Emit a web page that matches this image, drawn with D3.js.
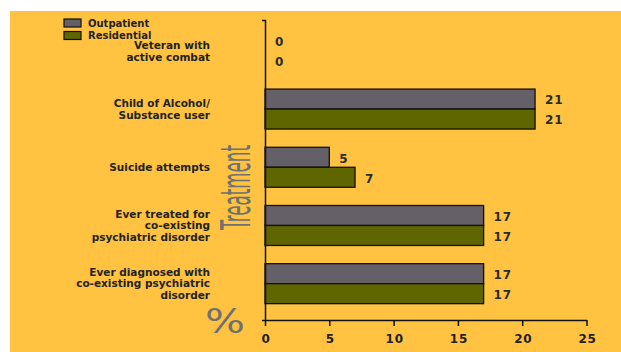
<!DOCTYPE html>
<html>
<head>
<meta charset="utf-8">
<script src="https://cdn.jsdelivr.net/npm/d3@7"></script>
<style>
  body { margin: 0; background: #fff; }
  text { font-family: "DejaVu Sans", Verdana, sans-serif; fill: #222; }
</style>
</head>
<body>
<div id="ChartContainer"></div>
<script>
// data
var categories = [
  ["Veteran with", "active combat"],
  ["Child of Alcohol/", "Substance user"],
  ["Suicide attempts"],
  ["Ever treated for", "co-existing", "psychiatric disorder"],
  ["Ever diagnosed with", "co-existing psychiatric", "disorder"]
]
var seriesNames = ["Outpatient", "Residential"]
var outpatient = [0, 21, 5, 17, 17]
var residential = [0, 21, 7, 17, 17]
var xTicks = [0, 5, 10, 15, 20, 25]
var colors = ["#655f67", "#5f6600"]

var fullWidth = 621
var fullHeight = 352

var svg = d3.select("#ChartContainer").append("svg")
  .attr("width", fullWidth)
  .attr("height", fullHeight)

svg.append("rect")
  .attr("x", 10)
  .attr("y", 11)
  .attr("width", fullWidth - 10)
  .attr("height", fullHeight - 11)
  .attr("fill", "#ffc341")

var x = d3.scaleLinear()
  .domain([0, 25])
  .range([265, 586.5])

var idx = categories.map((d, i) => i)
var y = d3.scaleBand()
  .domain(idx)
  .range([20, 320])
  .paddingInner(0.313)
  .paddingOuter(0.234)
  .align(0.4)

var sub = d3.scaleBand()
  .domain([0, 1])
  .range([0, y.bandwidth()])

var series = [outpatient, residential]

// bars + value labels
series.forEach((vals, s) => {
  svg.append("g").selectAll("rect")
    .data(vals)
    .enter().append("rect")
    .attr("x", x(0))
    .attr("y", (d, i) => y(i) + sub(s))
    .attr("width", d => x(d) - x(0))
    .attr("height", sub.bandwidth())
    .attr("fill", colors[s])
    .attr("stroke", "#111")
    .attr("stroke-width", 1.3)
    .style("display", d => d === 0 ? "none" : null)

  svg.append("g").selectAll("text")
    .data(vals)
    .enter().append("text")
    .attr("x", d => x(d) + 10)
    .attr("y", (d, i) => y(i) + sub(s) + sub.bandwidth() / 2 + 1)
    .attr("dy", "0.36em")
    .attr("font-size", "12px")
    .attr("font-weight", "bold")
    .attr("letter-spacing", "0.8px")
    .style("fill", "#2a2a2a")
    .text(d => d)
})

// x-axis
var xAxis = svg.append("g")
  .attr("transform", "translate(0,320)")
  .call(d3.axisBottom(x)
    .tickValues(xTicks)
    .tickSize(6)
    .tickSizeOuter(0))
xAxis.selectAll("path, line").attr("stroke", "#111").attr("stroke-width", 1.5)
xAxis.selectAll("text")
  .attr("y", 14)
  .attr("dx", "0.05em")
  .attr("font-size", "12px")
  .attr("font-weight", "bold")
  .attr("font-family", "DejaVu Sans, sans-serif")
  .attr("letter-spacing", "0.8px")
  .attr("fill", "#333")

// y-axis
var yAxis = svg.append("g")
  .attr("transform", "translate(265,0)")
  .call(d3.axisLeft(y)
    .tickValues([])
    .tickSize(0)
    .tickSizeOuter(3))
yAxis.select("path").attr("stroke", "#111").attr("stroke-width", 1.5)

// category labels
var lineH = 11.7
svg.append("g").selectAll("text")
  .data(categories)
  .enter().append("text")
  .attr("text-anchor", "end")
  .attr("font-size", "10.5px")
  .attr("font-weight", "bold")
  .each(function (lines, i) {
    var cy = y(i) + y.bandwidth() / 2 - (lines.length - 1) * lineH / 2
    d3.select(this).selectAll("tspan")
      .data(lines)
      .enter().append("tspan")
      .attr("x", 210)
      .attr("y", (l, j) => cy + j * lineH)
      .attr("dy", "0.36em")
      .text(l => l)
  })

// axis titles
svg.append("text")
  .attr("transform", "translate(250,187.5) rotate(-90)")
  .attr("text-anchor", "middle")
  .attr("font-size", "40px")
  .attr("font-family", "Liberation Sans Narrow, DejaVu Sans Condensed, sans-serif")
  .attr("textLength", 85)
  .attr("lengthAdjust", "spacingAndGlyphs")
  .style("fill", "#707071")
  .text("Treatment")

svg.append("text")
  .attr("x", 205)
  .attr("y", 333)
  .attr("font-size", "33px")
  .attr("textLength", 40)
  .attr("lengthAdjust", "spacingAndGlyphs")
  .style("fill", "#707071")
  .text("%")

// legend
var legend = svg.append("g")
seriesNames.forEach((name, s) => {
  legend.append("rect")
    .attr("x", 64)
    .attr("y", 19 + s * 12.5)
    .attr("width", 17)
    .attr("height", 8)
    .attr("fill", colors[s])
    .attr("stroke", "#111")
    .attr("stroke-width", 1.2)
  legend.append("text")
    .attr("x", 88)
    .attr("y", 23 + s * 12.5)
    .attr("dy", "0.36em")
    .attr("font-size", "10px")
    .attr("font-weight", "bold")
    .text(name)
})
</script>
</body>
</html>
